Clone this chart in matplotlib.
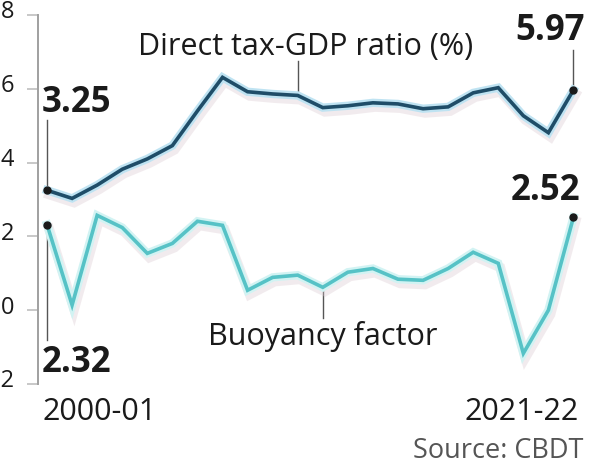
import matplotlib
matplotlib.use('Agg')
import matplotlib.pyplot as plt
import matplotlib.patheffects as pe
import matplotlib.transforms as mtransforms

years = ['2000-01', '2001-02', '2002-03', '2003-04', '2004-05', '2005-06',
         '2006-07', '2007-08', '2008-09', '2009-10', '2010-11', '2011-12',
         '2012-13', '2013-14', '2014-15', '2015-16', '2016-17', '2017-18',
         '2018-19', '2019-20', '2020-21', '2021-22']
tax_gdp = [3.25, 3.03, 3.39, 3.82, 4.10, 4.46, 5.40, 6.31, 5.92, 5.86, 5.82,
           5.49, 5.54, 5.62, 5.59, 5.46, 5.51, 5.89, 6.03, 5.27, 4.81, 5.97]
buoyancy = [2.32, 0.14, 2.57, 2.24, 1.54, 1.81, 2.41, 2.30, 0.54, 0.89, 0.95,
            0.62, 1.03, 1.13, 0.84, 0.81, 1.13, 1.57, 1.27, -1.17, 0.00, 2.52]
y_ticks = [-2, 0, 2, 4, 6, 8]

plt.rcParams['font.family'] = ['Open Sans', 'DejaVu Sans']

fig = plt.figure(figsize=(6.01, 4.65), dpi=100)
ax = fig.add_axes([38/601, 81/465, 548/601, 369/465])

x = list(range(len(years)))
last = len(years) - 1

# soft glow + shadow under both lines
def effects(halo):
    return [pe.SimpleLineShadow(offset=(1.5, -3), shadow_color='#d9c8cf', alpha=0.35, linewidth=7),
            pe.Stroke(linewidth=6, foreground=halo),
            pe.Normal()]

ax.plot(x, tax_gdp, color='#1f4d68', lw=2.6, solid_joinstyle='miter',
        path_effects=effects('#bfe3f2'), zorder=3)
ax.plot(x, buoyancy, color='#56c2c6', lw=2.6, solid_joinstyle='miter',
        path_effects=effects('#d2f3f3'), zorder=3)

# end dots
ax.plot([0, last], [tax_gdp[0], tax_gdp[-1]], 'o', color='#1a1a1a', ms=5, zorder=5)
ax.plot([0, last], [buoyancy[0], buoyancy[-1]], 'o', color='#1a1a1a', ms=5, zorder=5)

ax.set_xlim(-0.36, 21.5)
ax.set_ylim(-2, 8)
ax.set_yticks(y_ticks)
ax.set_yticklabels([str(t) for t in y_ticks])
ax.set_xticks([])
for s in ['top', 'right', 'bottom']:
    ax.spines[s].set_visible(False)
ax.spines['left'].set_color('#a0a0a0')
ax.spines['left'].set_linewidth(1.4)
ax.tick_params(axis='y', length=8, width=1.4, color='#c8c8c8', pad=9,
               labelsize=17, labelcolor='#1a1a1a')
# tick labels sit a little above their ticks
lift = mtransforms.ScaledTranslation(0, 4/72, fig.dpi_scale_trans)
for lab in ax.get_yticklabels():
    lab.set_transform(lab.get_transform() + lift)

bold = dict(fontsize=25, fontweight='bold', color='#1a1a1a')
conn = dict(color='#555555', lw=1.0, zorder=2)

# value labels with leader lines
ax.plot([0, 0], [tax_gdp[0], 5.15], **conn)
ax.text(-0.2, 5.37, f'{tax_gdp[0]:.2f}', ha='left', va='baseline', **bold)

ax.plot([last, last], [tax_gdp[-1], 7.05], **conn)
ax.text(20.05, 7.32, f'{tax_gdp[-1]:.2f}', ha='center', va='baseline', **bold)

ax.text(19.9, 2.98, f'{buoyancy[-1]:.2f}', ha='center', va='baseline', **bold)

ax.plot([0, 0], [buoyancy[0], -0.81], **conn)
ax.text(-0.2, -1.68, f'{buoyancy[0]:.2f}', ha='left', va='baseline', **bold)

# series names
ax.plot([10, 10], [tax_gdp[10], 6.75], **conn)
ax.text(10.3, 6.91, 'Direct tax-GDP ratio (%)', ha='center', va='baseline',
        fontsize=22, color='#1a1a1a')
ax.plot([11, 11], [buoyancy[11], -0.22], **conn)
ax.text(11.0, -0.95, 'Buoyancy factor', ha='center', va='baseline',
        fontsize=22, color='#1a1a1a')

# first / last year
ax.text(-0.2, -2.98, years[0], ha='left', va='baseline', fontsize=22,
        color='#1a1a1a', clip_on=False)
ax.text(21.2, -2.98, years[-1], ha='right', va='baseline', fontsize=22,
        color='#1a1a1a', clip_on=False)

fig.text(583/601, 1 - 458/465, 'Source: CBDT', ha='right', va='baseline',
         fontsize=19.5, color='#555555')

fig.savefig('out.png', dpi=100)
